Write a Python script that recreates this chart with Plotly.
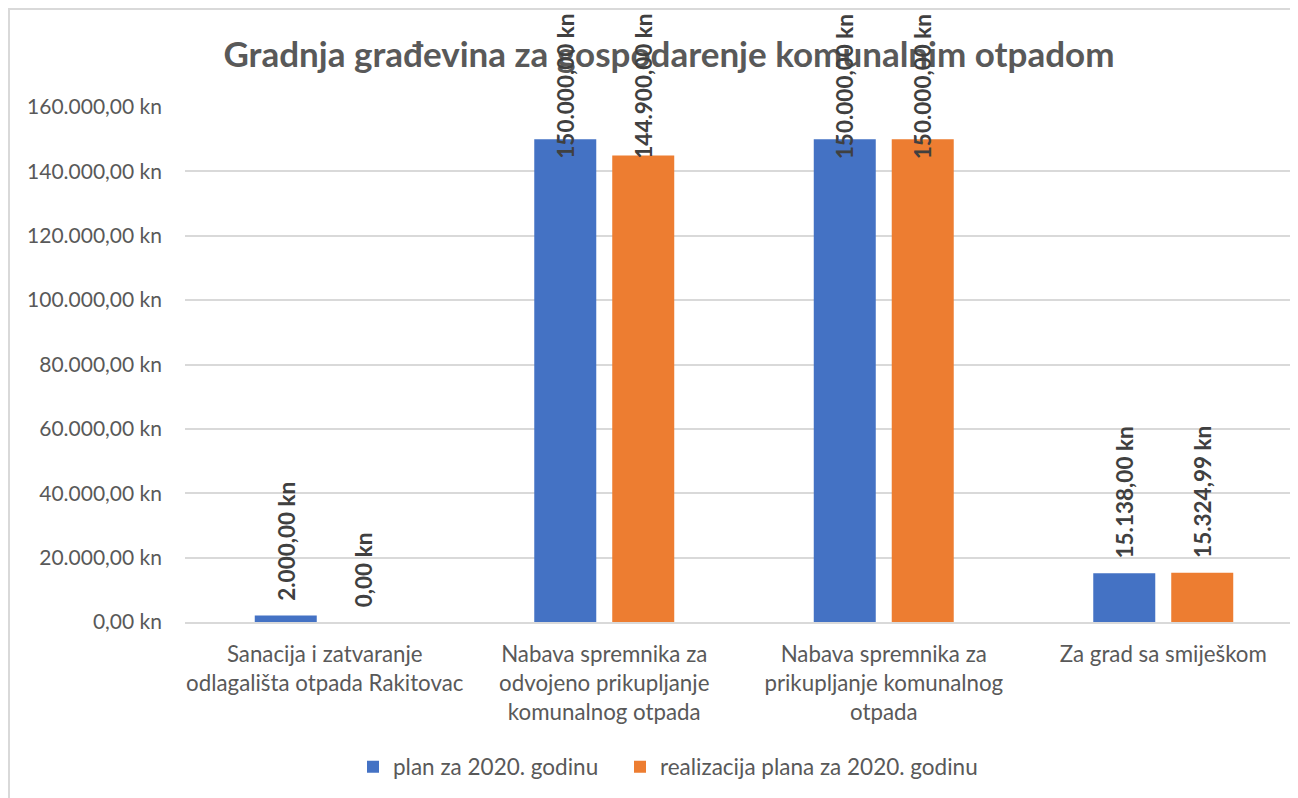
import plotly.graph_objects as go

categories = [
    "Sanacija i zatvaranje<br>odlagališta otpada Rakitovac",
    "Nabava spremnika za<br>odvojeno prikupljanje<br>komunalnog otpada",
    "Nabava spremnika za<br>prikupljanje komunalnog<br>otpada",
    "Za grad sa smiješkom",
]
series_names = ["plan za 2020. godinu", "realizacija plana za 2020. godinu"]
plan_values = [2000.00, 150000.00, 150000.00, 15138.00]
realizacija_values = [0.00, 144900.00, 150000.00, 15324.99]
y_ticks = [0, 20000, 40000, 60000, 80000, 100000, 120000, 140000, 160000]

TITLE = "Gradnja građevina za gospodarenje komunalnim otpadom"
FONT = "Lato"
GRAY = "#595959"
GRID = "#D9D9D9"
COLORS = ["#4472C4", "#ED7D31"]

# page body has an 8px margin, so figure coords = screen coords - 8
W, H = 1298, 798
L, R, T, B = 177, 3, 99, 184
plot_w = W - L - R
plot_h = H - T - B


def kn(v):
    s = f"{v:,.2f}".replace(",", "X").replace(".", ",").replace("X", ".")
    return s + " kn"


fig = go.Figure()
for i, (name, vals, col) in enumerate(zip(series_names, [plan_values, realizacija_values], COLORS)):
    fig.add_trace(go.Bar(x=categories, y=vals, name=name,
                         legend="legend" if i == 0 else "legend2",
                         marker=dict(color=col, line=dict(width=0))))

# data labels (rotated), clamped like Excel so they stay inside the chart area
LABEL_CLAMP = 139200
for vals, shift in zip([plan_values, realizacija_values], [-39, 39]):
    for c, v in zip(categories, vals):
        fig.add_annotation(
            x=c, y=min(v, LABEL_CLAMP), xref="x", yref="y",
            text=kn(v), textangle=-90, showarrow=False,
            xanchor="center", yanchor="bottom", xshift=shift, yshift=13,
            font=dict(family=FONT, size=22.5, color="#404040", weight="bold"),
        )

leg_y = -(759 - (H - B)) / plot_h
leg_common = dict(orientation="h", xanchor="left", y=leg_y, yanchor="middle",
                  font=dict(family=FONT, size=22.5, color=GRAY), itemwidth=30,
                  bgcolor="rgba(0,0,0,0)")

fig.update_layout(
    width=W, height=H,
    margin=dict(l=L, r=R, t=T, b=B, autoexpand=False),
    paper_bgcolor="white", plot_bgcolor="white",
    barmode="group", bargap=0.442, bargroupgap=0.205,
    font=dict(family=FONT, size=21, color=GRAY),
    title=dict(text=TITLE, x=661 / W, xanchor="center", xref="container",
               y=1 - 47 / H, yanchor="middle", yref="container",
               font=dict(family=FONT, size=35, color=GRAY, weight="bold")),
    showlegend=True,
    legend=dict(x=(345 - L) / plot_w, **leg_common),
    legend2=dict(x=(612 - L) / plot_w, **leg_common),
    xaxis=dict(type="category", range=[-0.5, 3.5], showline=True, linecolor=GRID, linewidth=2,
               showgrid=False, ticks="", tickfont=dict(family=FONT, size=22.3, color=GRAY),
               ticklabelstandoff=11, fixedrange=True, automargin=False),
    yaxis=dict(range=[0, 160000], tickvals=y_ticks, ticktext=[kn(v) for v in y_ticks],
               showgrid=True, gridcolor=GRID, gridwidth=2, zeroline=False, showline=False,
               ticks="", ticklabelstandoff=22, automargin=False,
               tickfont=dict(family=FONT, size=21, color=GRAY), fixedrange=True),
    shapes=[dict(type="rect", xref="paper", yref="paper",
                 x0=(1 - L) / plot_w, x1=2, y0=-1, y1=(H - B - 1) / plot_h,
                 line=dict(color=GRID, width=2), fillcolor="rgba(0,0,0,0)", layer="below")],
)

fig.write_html("out.html")
